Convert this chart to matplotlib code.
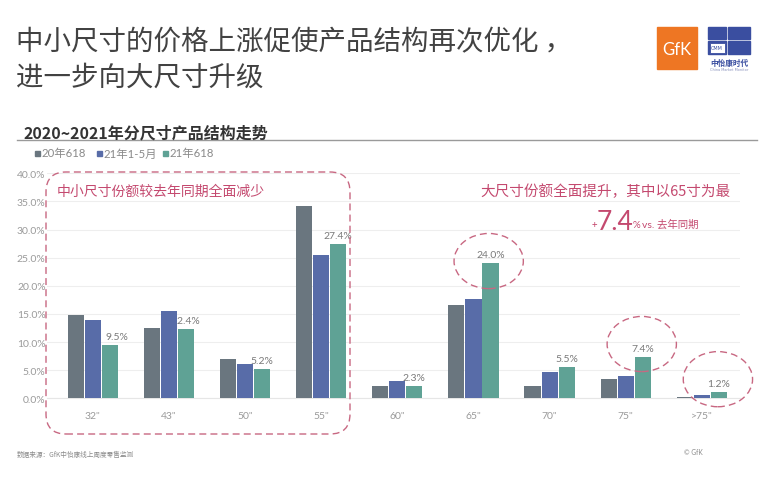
import matplotlib
matplotlib.use("Agg")
import matplotlib.pyplot as plt
import numpy as np
from matplotlib.patches import Ellipse, FancyBboxPatch, Rectangle
from matplotlib.transforms import IdentityTransform

plt.rcParams["font.family"] = ["Noto Sans CJK SC", "DejaVu Sans"]

# -------------------- 数据 --------------------
sizes = ['32"', '43"', '50"', '55"', '60"', '65"', '70"', '75"', '>75"']
series_names = ["20年618", "21年1-5月", "21年618"]
share_20_618 = [14.8, 12.5, 6.9, 34.1, 2.2, 16.6, 2.2, 3.5, 0.2]
share_21_1_5 = [14.0, 15.6, 6.1, 25.4, 3.1, 17.6, 4.6, 4.0, 0.5]
share_21_618 = [9.4, 12.3, 5.2, 27.4, 2.2, 24.0, 5.5, 7.3, 1.1]
labels_21_618 = ["9.5%", "12.4%", "5.2%", "27.4%", "2.3%", "24.0%", "5.5%", "7.4%", "1.2%"]
label_shift = [7, 0, 0, 0, 0, 0, 0, 0, 0]  # 标签水平偏移（像素）
y_ticks = [0, 5, 10, 15, 20, 25, 30, 35, 40]

colors = ["#6A767F", "#586CA8", "#5FA295"]
pink = "#C4496F"
W, H = 777, 489

fig = plt.figure(figsize=(W / 100, H / 100), dpi=100)
fig.patch.set_facecolor("white")


def fx(x):
    return x / W


def fy(y):
    return 1 - y / H


# -------------------- 标题 --------------------
fig.text(fx(16), fy(43), "中小尺寸的价格上涨促使产品结构再次优化 ，", fontsize=19.8,
         color="#424242", va="center", ha="left")
fig.text(fx(16), fy(78), "进一步向大尺寸升级", fontsize=19.8,
         color="#424242", va="center", ha="left")
fig.text(fx(24), fy(133), "2020~2021年分尺寸产品结构走势", fontsize=11.5,
         fontweight="bold", color="#333333", va="center", ha="left")
fig.add_artist(plt.Line2D([fx(17), fx(757)], [fy(141), fy(141)], color="#9A9A9A",
                          lw=1.0, transform=fig.transFigure))

# logos
fig.add_artist(Rectangle((fx(657), fy(70)), fx(40), 42 / H, color="#EE7623",
                         transform=fig.transFigure))
fig.text(fx(677), fy(50), "GfK", color="white", fontsize=12, ha="center", va="center",
         family=["Lato", "DejaVu Sans"])
for (x0, y0, w, h) in [(708, 28, 18, 12), (728, 28, 22, 12), (728, 42, 22, 13), (708, 42, 18, 13)]:
    fig.add_artist(Rectangle((fx(x0), fy(y0 + h)), fx(w), h / H, color="#3A4EA0",
                             transform=fig.transFigure))
fig.add_artist(Rectangle((fx(710), fy(54)), fx(15), 10 / H, facecolor="white",
                         edgecolor="#3A4EA0", lw=0.6, transform=fig.transFigure))
fig.text(fx(717), fy(49), "CMM", color="#3A4EA0", fontsize=3.5, ha="center", va="center",
         family=["DejaVu Sans"])
fig.text(fx(729), fy(63), "中怡康时代", color="#3A4EA0", fontsize=5.5, ha="center",
         va="center", fontweight="bold")
fig.text(fx(729), fy(70), "China Market Monitor", color="#8890BB", fontsize=2.5,
         ha="center", va="center", family=["DejaVu Sans"])

# 图例
leg_x = [35, 97, 163]
for i, name in enumerate(series_names):
    fig.add_artist(Rectangle((fx(leg_x[i]), fy(157)), fx(5), 5 / H, color=colors[i],
                             transform=fig.transFigure))
    fig.text(fx(leg_x[i] + 6), fy(154), name, fontsize=8.2, color="#8A8A8A",
             va="center", ha="left", family=["Lato", "Noto Sans CJK SC"])

# -------------------- 柱状图 --------------------
ax = fig.add_axes([fx(47), fy(399.3), fx(740) - fx(47), (399.3 - 174.3) / H])
x = np.arange(len(sizes))
bw = 0.212
step = 0.224
for i, vals in enumerate([share_20_618, share_21_1_5, share_21_618]):
    ax.bar(x + (i - 1) * step, vals, width=bw, color=colors[i], zorder=3)

# 数据标签放在柱子下层（43"的标签被遮住一部分，与原图一致）
for xi, v, lab, dx in zip(x, share_21_618, labels_21_618, label_shift):
    ax.annotate(lab, (xi + step, v), xytext=(dx * 0.72, 3), textcoords="offset points",
                ha="center", va="bottom", fontsize=7.5, color="#7A7A7A", zorder=2,
                family=["Lato", "DejaVu Sans"])

ax.set_xlim(-0.6, 8.5)
ax.set_ylim(0, 40)
ax.set_yticks(y_ticks)
ax.set_yticklabels([f"{t:.1f}%" for t in y_ticks], family=["Lato", "DejaVu Sans"])
ax.set_xticks(x)
ax.set_xticklabels(sizes, family=["Lato", "DejaVu Sans"])
ax.tick_params(axis="both", length=0, labelsize=7.5, labelcolor="#9A9A9A")
ax.tick_params(axis="x", pad=9)
ax.tick_params(axis="y", pad=1)
ax.grid(axis="y", color="#EEEEEE", lw=0.8, zorder=0)
for s in ["top", "right", "left"]:
    ax.spines[s].set_visible(False)
ax.spines["bottom"].set_color("#E6E6E6")
ax.set_facecolor("none")

# 高亮圈
circle_pos = [(5.2, 24.4), (7.21, 9.65), (8.21, 3.4)]
for cx, cy in circle_pos:
    ax.add_patch(Ellipse((cx, cy), 0.91, 9.8, fill=False, edgecolor="#C86882",
                         lw=1.0, ls=(0, (5, 3)), clip_on=False, zorder=4))

# 左侧虚线框
box = FancyBboxPatch((46, H - 435), 304, 262, boxstyle="round,pad=0,rounding_size=20",
                     fill=False, edgecolor="#C86882", lw=1.0, ls=(0, (5, 3)),
                     transform=IdentityTransform())
fig.add_artist(box)
fig.text(fx(57), fy(192), "中小尺寸份额较去年同期全面减少", fontsize=10, color=pink,
         va="center", ha="left")

fig.text(fx(730), fy(192), "大尺寸份额全面提升，其中以65寸为最", fontsize=10.5, color=pink,
         va="center", ha="right")
fig.text(fx(597), fy(225), "+", fontsize=7, color=pink, va="center", ha="right")
fig.text(fx(597), fy(222), "7.4", fontsize=19, color=pink, va="center", ha="left",
         family=["Lato", "DejaVu Sans"])
fig.text(fx(633), fy(225), "%", fontsize=7, color=pink, va="center", ha="left",
         family=["Lato", "DejaVu Sans"])
fig.text(fx(642), fy(225), "vs. 去年同期", fontsize=7.5, color=pink, va="center", ha="left",
         family=["Lato", "Noto Sans CJK SC"])

# 脚注
fig.text(fx(17), fy(455), "数据来源：GfK中怡康线上周度零售监测", fontsize=4.8, color="#8A8A8A",
         va="center", ha="left")
fig.text(fx(703), fy(453), "© GfK", fontsize=4.8, color="#8A8A8A", va="center", ha="right",
         family=["Lato", "DejaVu Sans"])

fig.savefig("out.png", dpi=100)
